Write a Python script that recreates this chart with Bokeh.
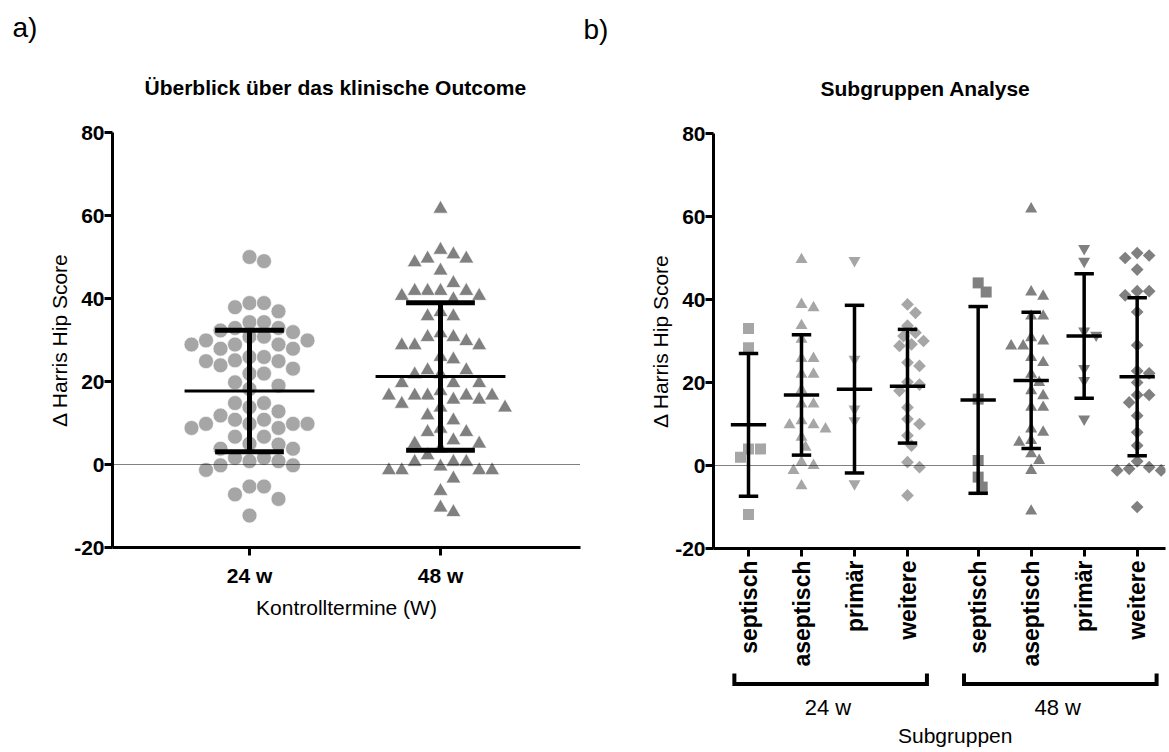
import numpy as np
from bokeh.plotting import figure
from bokeh.models import (FixedTicker, Span, Title, ColumnDataSource, Range1d)
from bokeh.layouts import row, column
from bokeh.core.properties import value
from bokeh.embed import file_html
from bokeh.resources import INLINE

FONT = "Liberation Sans"

# ---------------- data ----------------
# Panel a: change of Harris Hip Score per control visit
a_groups = ["24 w", "48 w"]
a24 = [49.0, 50.0, 37.9, 36.9, 38.9, 38.9, 32.9, 32.9, 34.3, 31.9, 32.3, 34.3, 30.8, 30.8,
       28.9, 28.9, 29.9, 27.9, 27.9, 28.9, 29.9, 25.1, 25.9, 23.1, 23.9, 24.9, 25.9, 24.9,
       21.9, 19.0, 19.8, 18.2, 21.9, 14.8, 14.8, 13.8, 12.8, 10.8, 11.8, 9.8, 8.8, 8.8, 9.8,
       9.8, 9.8, 10.8, 6.7, 6.7, 5.0, 4.8, 3.8, 3.8, 1.6, 1.6, 0.8, 0.8, -0.2, -0.2, -1.3,
       -5.3, -5.3, -7.2, -8.3, -12.3]
a48 = [61.6, 49.6, 49.6, 50.6, 48.7, 51.7, 46.7, 43.7, 40.6, 41.8, 39.8, 41.8, 41.8, 41.8,
       40.6, 36.7, 35.7, 35.7, 29.7, 28.7, 30.7, 28.7, 28.7, 31.6, 30.7, 25.9, 25.3, 22.7,
       22.7, 21.7, 21.7, 19.6, 19.6, 19.6, 16.6, 16.6, 16.6, 16.6, 15.6, 17.7, 16.6, 15.6,
       13.7, 13.7, 14.6, 10.6, 11.8, 8.6, 7.8, 7.8, 5.0, 5.8, 5.0, 3.8, 2.2, 0.6, 0.6, -0.5,
       0.6, -1.4, -1.4, -1.4, -1.4, -3.4, -6.4, -11.5, -10.4]
a_mean = [17.7, 21.2]
a_sd = [14.65, 17.75]

# Panel b: subgroups
b_subgroups = ["septisch", "aseptisch", "primär", "weitere"]
b_times = ["24 w", "48 w"]
b_sep24 = [33.0, 28.4, 4.0, 4.0, 2.0, -11.8]
b_asep24 = [49.6, 38.8, 38.0, 33.7, 30.4, 25.8, 25.8, 22.0, 22.0, 18.2, 14.8, 14.8, 9.8, 9.8,
            10.8, 8.8, 6.8, 4.4, 0.0, -1.2, 0.8, -4.9]
b_prim24 = [49.4, 25.6, 13.6, 10.8, -4.4]
b_weit24 = [38.8, 36.8, 33.7, 32.0, 31.2, 28.8, 29.2, 30.0, 24.8, 24.0, 20.1, 19.5, 18.0,
            14.0, 11.2, 10.0, 7.2, 4.8, 0.8, -0.4, -7.2]
b_sep48 = [41.8, 44.0, 16.0, 1.2, -2.8, -5.2]
b_asep48 = [61.8, 41.8, 40.8, 36.0, 36.0, 30.8, 28.8, 28.8, 30.0, 24.8, 26.0, 20.0, 22.0,
            16.8, 18.0, 14.0, 14.0, 8.0, 8.8, 5.6, 6.0, 2.8, 1.2, -1.2, -11.0]
b_prim48 = [52.3, 49.2, 32.4, 31.4, 23.4, 20.5, 11.2]
b_weit48 = [51.2, 50.6, 50.0, 47.2, 42.0, 42.0, 41.0, 37.0, 29.0, 22.8, 22.2, 20.0, 17.0,
            17.0, 15.2, 12.0, 8.0, 4.8, 1.0, -0.4, -0.8, -1.2, -1.2, -10.0]
b_mean = [9.8, 17.0, 18.4, 19.1, 15.8, 20.5, 31.2, 21.4]
b_sd = [17.2, 14.5, 20.2, 13.7, 22.5, 16.4, 15.0, 19.05]
b_values = [b_sep24, b_asep24, b_prim24, b_weit24, b_sep48, b_asep48, b_prim48, b_weit48]
b_axis_label = "Subgruppen"

y_ticks = [-20, 0, 20, 40, 60, 80]

# ---------------- layout constants ----------------
Y0, Y1 = -20, 80
FH = 415
PPY = FH / (Y1 - Y0)

A_FW = 468
A_PPX = 191.0
A_X0 = 1 - 137 / A_PPX
A_X1 = A_X0 + A_FW / A_PPX

B_FW = 452
B_PPX = 53.0 / 3
B_X0 = 3 - 35 / B_PPX
B_X1 = B_X0 + B_FW / B_PPX

LIGHT = "#a6a6a6"
DARK = "#808080"


def swarm(values, sx, sy, step, ppx, ppy):
    vals = np.asarray(values, float)
    order = np.argsort(-vals, kind="stable")
    placed = []
    offs = np.zeros(len(vals))
    cands = [0] + [s * k for k in range(1, 60) for s in (1, -1)]
    for i in order:
        y = vals[i] * ppy
        x = 0.0
        for k in cands:
            x = k * step
            if all(((x - px_) / sx) ** 2 + ((y - py_) / sy) ** 2 >= 1 - 1e-9 for px_, py_ in placed):
                break
        placed.append((x, y))
        offs[i] = x / ppx
    return offs


def style(p, title, title_size, title_align, title_offset, corner, corner_offset, corner_standoff,
          fs="21px"):
    p.xgrid.visible = False
    p.ygrid.visible = False
    p.outline_line_color = None
    p.background_fill_color = "white"
    p.border_fill_color = "white"
    for ax in (p.xaxis[0], p.yaxis[0]):
        ax.axis_line_width = 3
        ax.major_tick_line_width = 3
        ax.major_tick_out = 8
        ax.major_tick_in = 0
        ax.minor_tick_line_color = None
        ax.major_label_text_font = FONT
        ax.major_label_text_font_style = "bold"
        ax.major_label_text_font_size = fs
        ax.major_label_text_color = "black"
        ax.axis_label_text_font = FONT
        ax.axis_label_text_font_style = "normal"
        ax.axis_label_text_font_size = fs
        ax.axis_label_text_color = "black"
    p.yaxis[0].ticker = FixedTicker(ticks=y_ticks, minor_ticks=[])
    p.yaxis[0].major_label_overrides = {t: str(t) for t in y_ticks}
    p.yaxis[0].axis_label = "Δ Harris Hip Score"
    p.yaxis[0].major_label_standoff = 0
    p.yaxis[0].axis_label_standoff = 0
    # outer title: panel letter
    p.title.text = corner
    p.title.text_font = FONT
    p.title.text_font_size = "28px"
    p.title.text_font_style = "normal"
    p.title.text_color = "black"
    p.title.align = "left"
    p.title.offset = corner_offset
    p.title.standoff = corner_standoff
    # inner title: chart title
    p.add_layout(Title(text=title, align=title_align, offset=title_offset, text_font=FONT,
                       text_font_size=title_size, text_font_style="bold", text_color="black",
                       standoff=67), "above")
    p.add_layout(Span(location=0, dimension="width", line_dash="1 1", line_width=1,
                      line_color="black"))


def errorbars(p, xs, means, sds, half_mean, half_cap, w_bar, w_cap, w_mean):
    xs = np.asarray(xs, float)
    m = np.asarray(means, float)
    s = np.asarray(sds, float)
    src = ColumnDataSource(dict(x=xs, lo=m - s, hi=m + s, m=m,
                                xl=xs - half_cap, xr=xs + half_cap,
                                ml=xs - half_mean, mr=xs + half_mean))
    p.segment("x", "lo", "x", "hi", source=src, line_width=w_bar, line_color="black")
    p.segment("xl", "lo", "xr", "lo", source=src, line_width=w_cap, line_color="black")
    p.segment("xl", "hi", "xr", "hi", source=src, line_width=w_cap, line_color="black")
    p.segment("ml", "m", "mr", "m", source=src, line_width=w_mean, line_color="black")


# ---------------- panel a ----------------
pa = figure(frame_width=A_FW, frame_height=FH, x_range=Range1d(A_X0, A_X1),
            y_range=Range1d(Y0, Y1), output_backend="svg", toolbar_location=None,
            min_border_left=112, min_border_right=2, min_border_top=132, min_border_bottom=100)
style(pa, "Überblick über das klinische Outcome", "21px", "left", 32, "a)", -100, -5)
pa.xaxis[0].ticker = FixedTicker(ticks=[1, 2], minor_ticks=[])
pa.xaxis[0].major_label_overrides = {1: a_groups[0], 2: a_groups[1]}
pa.xaxis[0].axis_label = "Kontrolltermine (W)"
pa.xaxis[0].major_label_standoff = 8
pa.xaxis[0].axis_label_standoff = 6

xa24 = 1 + swarm(a24, 14.5, 14.5, 14.5, A_PPX, PPY)
xa48 = 2 + swarm(a48, 12.9, 16.0, 12.9, A_PPX, PPY)
pa.scatter(xa24, a24, marker="circle", size=15, fill_color=LIGHT, line_color="white", line_width=0.7)
pa.scatter(xa48, a48, marker="triangle", size=15, fill_color=DARK, line_color="white", line_width=0.7)
errorbars(pa, [1, 2], a_mean, a_sd, 0.34, 0.18, 5, 5, 3)

# ---------------- panel b ----------------
pb = figure(frame_width=B_FW, frame_height=FH, x_range=Range1d(B_X0, B_X1),
            y_range=Range1d(Y0, Y1), output_backend="svg", toolbar_location=None,
            min_border_left=131, min_border_right=2, min_border_top=133, min_border_bottom=124)
style(pb, "Subgruppen Analyse", "21px", "left", 107, "b)", -130, -6)
positions = []
labels = {}
for ti, t in enumerate(b_times):
    for si, sg in enumerate(b_subgroups):
        pos = 3 + 3 * (ti * len(b_subgroups) + si) + ti
        positions.append(pos)
        labels[pos] = sg
pb.xaxis[0].ticker = FixedTicker(ticks=positions, minor_ticks=[])
pb.xaxis[0].major_label_overrides = labels
pb.xaxis[0].major_label_orientation = np.pi / 2
pb.xaxis[0].major_label_text_font_size = "23px"
pb.xaxis[0].major_label_standoff = 4

markers = ["square", "triangle", "inverted_triangle", "square"]
angles = [0, 0, 0, np.pi / 4]
sizes = [11, 12, 12, 9]
for k, vals in enumerate(b_values):
    ti, si = divmod(k, 4)
    xs = positions[k] + swarm(vals, 10.0, 10.0, 4.0, B_PPX, PPY)
    pb.scatter(xs, vals, marker=markers[si], angle=angles[si], size=sizes[si],
               fill_color=LIGHT if ti == 0 else DARK, line_color=None)
errorbars(pb, positions, b_mean, b_sd, 1.0, 0.55, 3.5, 3.5, 3.5)

# ---------------- panel b footer: group brackets + axis title ----------------
C_FH = 76
pc = figure(frame_width=B_FW, frame_height=C_FH, x_range=pb.x_range,
            y_range=Range1d(C_FH, 0), output_backend="svg", toolbar_location=None,
            min_border_left=131, min_border_right=2, min_border_top=0, min_border_bottom=0)
pc.axis.visible = False
pc.xgrid.visible = False
pc.ygrid.visible = False
pc.outline_line_color = None
pc.background_fill_color = "white"
pc.border_fill_color = "white"
br_xs, br_ys, gx, gy = [], [], [], []
for ti, t in enumerate(b_times):
    g = positions[ti * 4:(ti + 1) * 4]
    xl, xr = g[0] - 0.8, g[-1] + 1.1
    br_xs.append([xl, xl, xr, xr])
    br_ys.append([1, 11.5, 11.5, 1])
    gx.append((g[0] + g[-1]) / 2)
    gy.append(35)
pc.multi_line(br_xs, br_ys, line_width=4, line_color="black", line_join="miter")
pc.text(gx, gy, text=b_times, text_align="center", text_baseline="middle",
        text_font=value(FONT), text_font_size="22px", text_color="black")
pc.text([(positions[0] + positions[-1]) / 2 + 0.7], [63], text=[b_axis_label], text_align="center",
        text_baseline="middle", text_font=value(FONT), text_font_size="21px", text_color="black")

layout = row(pa, column(pb, pc))
open("out.html", "w").write(file_html(layout, INLINE))
